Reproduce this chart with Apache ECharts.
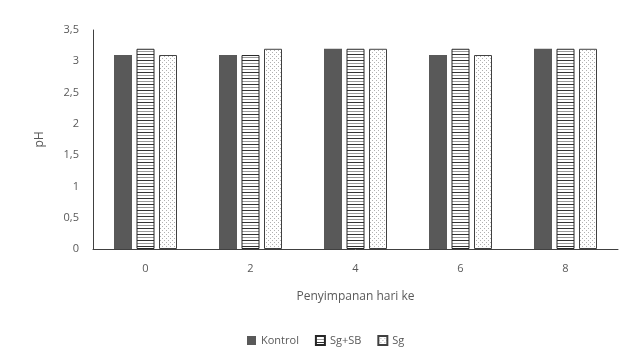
<!DOCTYPE html>
<html>
<head>
<meta charset="utf-8">
<script src="https://cdn.jsdelivr.net/npm/echarts@6/dist/echarts.min.js"></script>
<style>
  html, body { margin: 0; padding: 0; background: #fff; }
  #chart { width: 624px; height: 359px; }
</style>
</head>
<body>
<div id="chart"></div>
<script>
// pH during storage (days)
const days = ["0", "2", "4", "6", "8"];
const kontrol = [3.1, 3.1, 3.2, 3.1, 3.2];
const sgSb = [3.2, 3.1, 3.2, 3.2, 3.2];
const sg = [3.1, 3.2, 3.2, 3.1, 3.2];
const yTicks = [0, 0.5, 1, 1.5, 2, 2.5, 3, 3.5];

function stripePattern() {
	const c = document.createElement("canvas");
	c.width = 8;
	c.height = 6;
	const ctx = c.getContext("2d");
	ctx.fillStyle = "#fff";
	ctx.fillRect(0, 0, 8, 6);
	ctx.fillStyle = "#333";
	ctx.fillRect(0, 0, 8, 1);
	ctx.fillStyle = "#9a9a9a";
	ctx.fillRect(0, 3, 8, 1);
	return c;
}

function dotPattern() {
	const c = document.createElement("canvas");
	c.width = 4;
	c.height = 4;
	const ctx = c.getContext("2d");
	ctx.fillStyle = "#fff";
	ctx.fillRect(0, 0, 4, 4);
	ctx.fillStyle = "#b0b0b0";
	ctx.fillRect(0, 0, 1, 1);
	ctx.fillRect(2, 2, 1, 1);
	return c;
}

const chart = echarts.init(document.getElementById("chart"));
const font = "Open Sans";

chart.setOption({
	animation: false,
	backgroundColor: "#fff",
	textStyle: { fontFamily: font },
	grid: { left: 93, right: 6, top: 30, bottom: 110 },
	legend: {
		bottom: 8,
		left: 242,
		icon: "rect",
		itemWidth: 9,
		itemHeight: 9,
		itemGap: 16,
		textStyle: { color: "#595959", fontSize: 11, fontFamily: font },
		data: ["Kontrol", "Sg+SB", "Sg"],
	},
	xAxis: {
		type: "category",
		data: days,
		name: "Penyimpanan hari ke",
		nameLocation: "middle",
		nameGap: 42,
		nameTextStyle: { color: "#595959", fontSize: 12, fontFamily: font },
		axisLine: { lineStyle: { color: "#404040", width: 1 } },
		axisTick: { show: false },
		axisLabel: { color: "#595959", fontSize: 11, margin: 14 },
	},
	yAxis: {
		type: "value",
		min: 0,
		max: 3.5,
		interval: 0.5,
		name: "pH",
		nameLocation: "middle",
		nameGap: 47,
		nameTextStyle: { color: "#595959", fontSize: 12, fontFamily: font },
		axisLine: { show: true, lineStyle: { color: "#404040", width: 1 } },
		axisTick: { show: false },
		splitLine: { show: false },
		axisLabel: {
			color: "#595959",
			fontSize: 11,
			margin: 14,
			formatter: (v) => (yTicks.includes(v) ? String(v).replace(".", ",") : ""),
		},
	},
	series: [
		{
			name: "Kontrol",
			type: "bar",
			data: kontrol,
			barWidth: 18,
			barGap: "25%",
			itemStyle: { color: "#595959" },
		},
		{
			name: "Sg+SB",
			type: "bar",
			data: sgSb,
			barWidth: 18,
			barGap: "25%",
			itemStyle: {
				color: { image: stripePattern(), repeat: "repeat" },
				borderColor: "#262626",
				borderWidth: 1,
			},
		},
		{
			name: "Sg",
			type: "bar",
			data: sg,
			barWidth: 18,
			barGap: "25%",
			itemStyle: {
				color: { image: dotPattern(), repeat: "repeat" },
				borderColor: "#404040",
				borderWidth: 1,
			},
		},
	],
});
</script>
</body>
</html>
